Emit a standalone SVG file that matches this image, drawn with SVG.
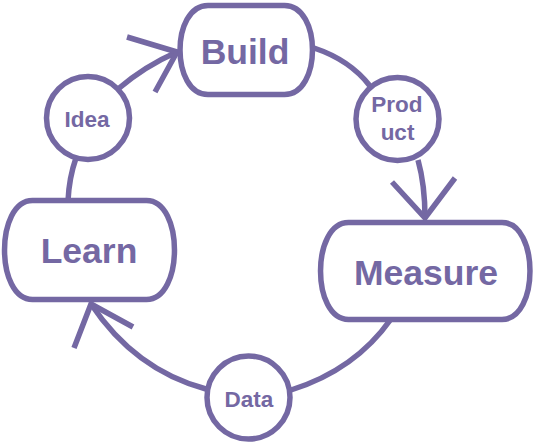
<svg xmlns="http://www.w3.org/2000/svg" width="538" height="446" viewBox="0 0 538 446">
  <style>
    .edge { fill: none; stroke: #7468A3; stroke-width: 5.5; stroke-linecap: butt; stroke-linejoin: miter; }
    .shape { fill: #FFFFFF; stroke: #7468A3; stroke-width: 5.5; }
    .big { font-family: "Liberation Sans", Arial, sans-serif; font-weight: bold; font-size: 35.5px; fill: #7468A3; text-anchor: middle; }
    .small { font-family: "Liberation Sans", Arial, sans-serif; font-weight: bold; font-size: 22.5px; fill: #7468A3; text-anchor: middle; }
  </style>
  <rect width="538" height="446" fill="#FFFFFF"/>
  <g id="connectors">
    <path class="edge" d="M 118,89 Q 145,66 177,52"/>
    <polyline class="edge" points="127,37 177,52 155,92"/>
    <path class="edge" d="M 314,48 Q 350,60 370,86"/>
    <path class="edge" d="M 418,160 Q 425,185 425,218"/>
    <polyline class="edge" points="392,182 425,218 455,178"/>
    <path class="edge" d="M 391,319 Q 355,370 291,390"/>
    <path class="edge" d="M 206,389 Q 135,370 91,304"/>
    <polyline class="edge" points="74,348 91,304 133,327"/>
    <path class="edge" d="M 68,201 Q 69,178 76,158"/>
  </g>
  <g id="node-build">
    <path class="shape" d="M 208,5.5 H 284.5 C 321.8,5.5 321.8,94.5 284.5,94.5 H 208 C 170.7,94.5 170.7,5.5 208,5.5 Z"/>
    <text class="big" x="245" y="64">Build</text>
  </g>
  <g id="node-product">
    <circle class="shape" cx="397.5" cy="119" r="41.5"/>
    <text class="small" x="397" y="112">Prod</text>
    <text class="small" x="397.5" y="140">uct</text>
  </g>
  <g id="node-measure">
    <path class="shape" d="M 348.5,222.5 H 502 C 539.3,222.5 539.3,319.5 502,319.5 H 348.5 C 311.2,319.5 311.2,222.5 348.5,222.5 Z"/>
    <text class="big" x="426" y="285">Measure</text>
  </g>
  <g id="node-data">
    <circle class="shape" cx="248.5" cy="397.5" r="41.5"/>
    <text class="small" x="249" y="407">Data</text>
  </g>
  <g id="node-learn">
    <path class="shape" d="M 32.5,200.5 H 146.5 C 183.8,200.5 183.8,299.5 146.5,299.5 H 32.5 C -4.8,299.5 -4.8,200.5 32.5,200.5 Z"/>
    <text class="big" x="89" y="263">Learn</text>
  </g>
  <g id="node-idea">
    <circle class="shape" cx="88" cy="118" r="41.5"/>
    <text class="small" x="87" y="127">Idea</text>
  </g>
</svg>
